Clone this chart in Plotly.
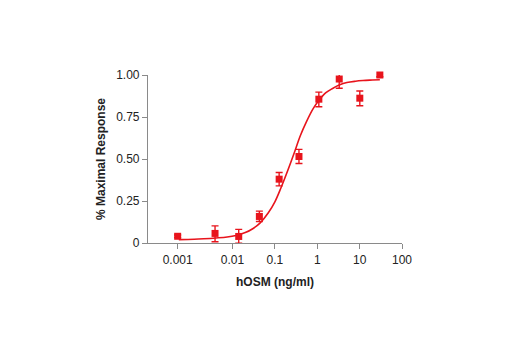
import numpy as np
import plotly.graph_objects as go

# ---- data ----
conc = [0.001, 0.0048, 0.014, 0.043, 0.126, 0.37, 1.09, 3.3, 10.1, 30.0]
resp = [0.04, 0.057, 0.039, 0.158, 0.38, 0.515, 0.856, 0.976, 0.862, 1.0]
err_plus = [0.008, 0.045, 0.042, 0.032, 0.04, 0.042, 0.042, 0.03, 0.043, 0.01]
err_minus = [0.008, 0.05, 0.04, 0.03, 0.04, 0.042, 0.045, 0.055, 0.045, 0.01]

curve_conc = [0.00105, 0.002, 0.003, 0.005, 0.008, 0.012, 0.02, 0.03, 0.045, 0.07, 0.1,
              0.14, 0.2, 0.28, 0.4, 0.55, 0.8, 1.1, 1.6, 2.3, 3.3, 5, 8, 12, 20, 30]
curve_resp = [0.02, 0.022, 0.025, 0.03, 0.036, 0.045, 0.062, 0.085, 0.12, 0.18, 0.245,
              0.33, 0.43, 0.53, 0.64, 0.72, 0.8, 0.85, 0.895, 0.92, 0.94, 0.955, 0.963, 0.967, 0.97, 0.972]

x_tick_labels = ["0.001", "0.01", "0.1", "1", "10", "100"]
x_tick_conc = [0.001, 0.01, 0.1, 1, 10, 100]
y_tick_vals = [0, 0.25, 0.5, 0.75, 1.0]
y_tick_labels = ["0", "0.25", "0.50", "0.75", "1.00"]

# broken log axis: the lowest decade (control dose) is stretched as in the original
def axis_pos(c):
    lg = np.log10(np.asarray(c, dtype=float))
    return np.where(lg >= -2, lg, -2 + (lg + 2) * 1.295)

RED = "#e8141c"
FONT = "Liberation Sans Narrow, Arial Narrow, Liberation Sans, Arial, sans-serif"

fig = go.Figure()
fig.add_trace(go.Scatter(
    x=axis_pos(curve_conc), y=curve_resp, mode="lines",
    line=dict(color=RED, width=1.6, shape="spline"), hoverinfo="skip", showlegend=False,
    cliponaxis=False))
fig.add_trace(go.Scatter(
    x=axis_pos(conc), y=resp, mode="markers",
    marker=dict(symbol="square", size=7, color=RED),
    error_y=dict(type="data", array=err_plus, arrayminus=err_minus, symmetric=False,
                 color=RED, thickness=1.4, width=3.5),
    showlegend=False, cliponaxis=False))

fig.update_layout(
    width=520, height=350,
    margin=dict(l=148, r=118, t=75, b=107),
    paper_bgcolor="white", plot_bgcolor="white",
    font=dict(family=FONT, size=11, color="#222222"),
    xaxis=dict(
        range=[-3.995, 2.0], showgrid=False, zeroline=False,
        showline=True, linecolor="#8a8a8a", linewidth=1.2,
        ticks="outside", ticklen=5, tickcolor="#8a8a8a", tickwidth=1.2,
        tickvals=list(axis_pos(x_tick_conc)), ticktext=x_tick_labels,
        tickfont=dict(family=FONT, size=12, color="#222222"),
        title=dict(text="<b>hOSM (ng/ml)</b>", font=dict(family=FONT, size=12, color="#222222"), standoff=12),
    ),
    yaxis=dict(
        range=[0, 1.0], showgrid=False, zeroline=False,
        showline=True, linecolor="#8a8a8a", linewidth=1.2,
        ticks="outside", ticklen=5, tickcolor="#8a8a8a", tickwidth=1.2,
        tickvals=y_tick_vals, ticktext=y_tick_labels,
        tickfont=dict(family=FONT, size=12, color="#222222"),
        title=dict(text="<b>% Maximal Response</b>", font=dict(family=FONT, size=12, color="#222222"), standoff=7),
    ),
)
fig.write_html("out.html")
